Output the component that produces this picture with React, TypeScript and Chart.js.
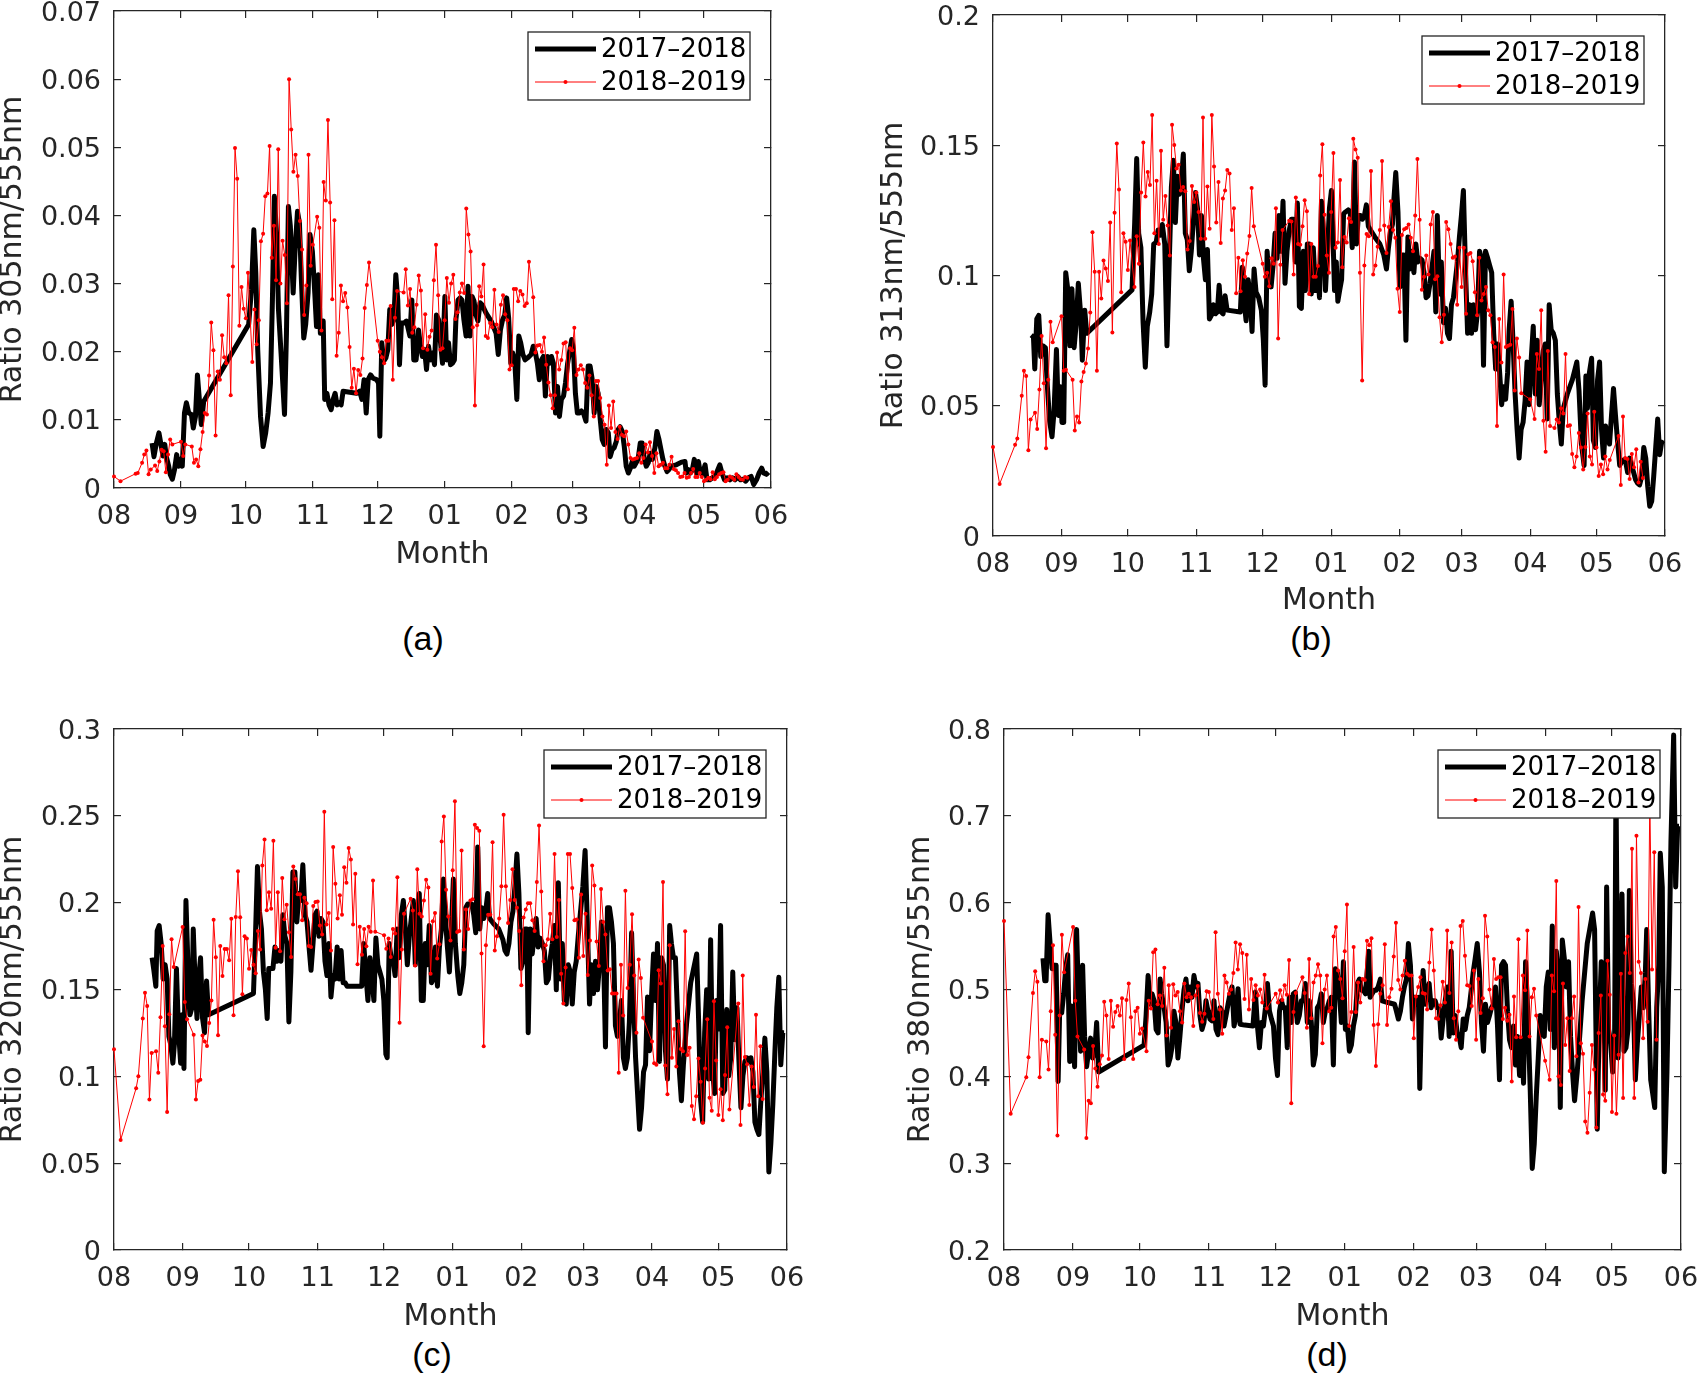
import { useEffect, useRef } from 'react'
import Chart from 'chart.js/auto'

// season axis: day 0 = 1 Aug, day 304 = 1 Jun
const monthDays = [0, 31, 61, 92, 122, 153, 184, 212, 243, 273, 304]
const monthLabels = ['08', '09', '10', '11', '12', '01', '02', '03', '04', '05', '06']
const seriesLabels = ['2017–2018', '2018–2019']

// [day of season, ratio]
const r305_1718: [number, number][] = [
  [17.6,0.0066],[18.5,0.0046],[19.6,0.0066],[20.8,0.0081],[22,0.0059],[22.7,0.0047],[23.5,0.0064],[24.2,0.0046],[25.3,0.0032],[26,0.002],[27,0.0013],[28,0.0027],[29,0.0049],[29.8,0.0032],[30.7,0.0042],[31.6,0.0032],[32.6,0.011],[33.5,0.0125],[34.6,0.011],[35.8,0.0108],[36.7,0.0088],[37.7,0.0105],[38.6,0.0166],[39.5,0.013],[40.4,0.0093],[41.5,0.0127],
  [62.3,0.024],[63.6,0.0291],[64.7,0.0379],[65.6,0.0316],[66.5,0.0203],[67.8,0.0105],[69,0.0061],[70.2,0.0081],[71.3,0.011],[72.4,0.0154],[73.3,0.0276],[74.2,0.0428],[75.2,0.0374],[76.1,0.0262],[77.2,0.0203],[78,0.0159],[78.9,0.0108],[79.8,0.0227],[80.7,0.0413],[81.6,0.0384],[82.9,0.0286],[83.8,0.035],[84.9,0.0406],[85.8,0.0389],[86.7,0.0306],[87.8,0.022],[88.7,0.024],[89.8,0.0286],[90.7,0.0372],[91.8,0.0347],[92.9,0.0286],[93.7,0.0237],[94.6,0.0313],[95.5,0.0227],[96.8,0.0245],[97.5,0.013],[98.5,0.0139],[99.5,0.0122],[100.5,0.0115],[101.4,0.013],[102.3,0.0139],[103.2,0.0122],[104.2,0.0125],[105.1,0.0122],[106,0.0142],
  [112.2,0.0139],[113.7,0.0142],[114.7,0.013],[115.7,0.0159],[116.7,0.011],[117.6,0.0159],[118.7,0.0166],[119.9,0.0161],[121.5,0.0159],[122.4,0.0154],[123,0.0076],[123.9,0.0213],[124.8,0.0186],[125.8,0.0191],[126.7,0.0203],[127.6,0.0262],[128.5,0.024],[129.5,0.0247],[130.4,0.0313],[131.3,0.0276],[132.1,0.0181],[133,0.0242],[134.1,0.0242],[135.3,0.0245],[136.9,0.0223],[137.8,0.0276],[138.7,0.0188],[139.8,0.0188],[140.9,0.0232],[141.8,0.0208],[142.7,0.0193],[143.7,0.0203],[144.6,0.0174],[145.5,0.0208],[146.5,0.0188],[147.4,0.0198],[148.3,0.0181],[149.2,0.0254],[150.2,0.0247],[151.1,0.0213],[152,0.0183],[153.1,0.0281],[153.9,0.0188],[154.8,0.0213],[155.7,0.0181],[156.6,0.0183],[157.5,0.0188],[158.2,0.0247],[159.2,0.0276],[160.1,0.0279],[161,0.0276],[161.9,0.0247],[162.9,0.0223],[163.8,0.0296],[164.7,0.0223],[165.7,0.0281],[166.6,0.0274],[167.5,0.0254],[168.4,0.0245],[169.4,0.0272],[170.3,0.0269],[172.1,0.0257],[174.5,0.0245],[176.8,0.0227],[177.8,0.0196],[178.8,0.0232],[179.8,0.0247],[180.8,0.0254],[181.7,0.0279],[182.6,0.025],[183.6,0.0183],[184.5,0.0198],[185.4,0.0188],[186.4,0.013],[187.3,0.0223],[188.2,0.0213],[189.2,0.0196],[190.2,0.0188],[191.4,0.0191],[193,0.0196],[194,0.0208],[195,0.0198],[195.9,0.0183],[196.8,0.0159],[197.8,0.0188],[198.7,0.0193],[199.6,0.0135],[200.6,0.0193],[201.5,0.0183],[202.4,0.0193],[203.3,0.0183],[204.3,0.011],[205.2,0.0149],[206.1,0.0105],[207,0.013],[208,0.0135],[208.9,0.0154],[209.9,0.0183],[210.7,0.0198],[211.8,0.0218],[212.6,0.0203],[213.5,0.0139],[214.4,0.011],[215.4,0.011],[216.3,0.0113],[217.2,0.011],[218.4,0.0098],[219.4,0.0179],[220.3,0.0179],[221.2,0.0161],[222.2,0.011],[223.1,0.0149],[224,0.0139],[225,0.01],[225.9,0.0071],[226.8,0.0064],[227.7,0.0086],[228.7,0.0081],[229.6,0.0046],[230.5,0.0056],[231.4,0.0059],[232.4,0.0068],[233.3,0.0086],[234.2,0.009],[235.2,0.0083],[236.1,0.0061],[237,0.0032],[238,0.0022],[238.9,0.0029],[239.8,0.0039],[240.7,0.0032],[241.6,0.0037],[242.5,0.0042],[243.5,0.0066],[244.4,0.0066],[245.4,0.0042],[246.3,0.0032],[247.2,0.0037],[248.1,0.0051],[249.1,0.0042],[250.3,0.0059],[251.2,0.0083],[252.2,0.0071],[253.1,0.0056],[254,0.0042],[254.9,0.0032],[255.9,0.0024],[256.8,0.0027],[257.7,0.0032],[260.2,0.0034],[262.6,0.0038],[264.2,0.0039],[264.8,0.0022],[265.8,0.0027],[266.7,0.0022],[267.6,0.0027],[268.5,0.0042],[269.5,0.0022],[270.4,0.0039],[271.3,0.0022],[272.2,0.002],[273.5,0.0034],[274.4,0.0012],[275.7,0.0012],[276.9,0.0015],[278.1,0.0017],[279.4,0.0027],[280.3,0.0034],[281.3,0.0022],[282.5,0.0012],[283.7,0.0015],[285,0.0012],[286.2,0.0015],[287.4,0.0012],[288.6,0.0017],[289.9,0.0012],[291.1,0.0013],[292.3,0.001],[293.6,0.0015],[294.8,0.0017],[296,0.0005],[297.3,0.0012],[298.5,0.0022],[299.7,0.0029],[300.6,0.0022],[301.9,0.002],[302.8,0.0023],
]

const r305_1819: [number, number][] = [
  [0,0.0017],[3,0.001],[10,0.0021],[11,0.0022],[13,0.0037],[14,0.0049],[15,0.0055],[16,0.002],[17,0.0027],[19,0.0033],[20,0.0025],[21,0.0039],[22,0.0056],[23,0.0054],[24,0.0023],[25,0.0049],[26,0.0071],[27,0.0064],[31,0.0068],[32,0.0047],[33,0.0064],[36,0.0061],[37,0.0037],[38,0.0042],[39,0.0032],[40,0.0057],[41,0.0082],[42,0.011],[43,0.0108],[44,0.0165],[45,0.0243],[46,0.0202],[47,0.0077],[48,0.0171],[49,0.0159],[50,0.0224],[51,0.0192],[52,0.0183],[53,0.0283],[54,0.0136],[55,0.0325],[56,0.0499],[57,0.0454],[58,0.0238],[59,0.0295],[60,0.0263],[61,0.0249],[62,0.0316],[64,0.0185],[65,0.0262],[66,0.0211],[67,0.0246],[68,0.0362],[69,0.0373],[70,0.0428],[71,0.0432],[72,0.0502],[73,0.0338],[74,0.0385],[75,0.0305],[76,0.0497],[77,0.03],[78,0.0363],[79,0.0342],[80,0.0271],[81,0.06],[82,0.0526],[83,0.0464],[84,0.0489],[85,0.0458],[86,0.0392],[87,0.035],[88,0.0254],[89,0.0297],[90,0.0489],[91,0.0326],[92,0.0357],[94,0.0398],[95,0.0382],[96,0.0231],[97,0.0449],[98,0.0422],[99,0.054],[100,0.0419],[101,0.0277],[102,0.0393],[103,0.0194],[104,0.0228],[105,0.0297],[106,0.0274],[107,0.0286],[108,0.0265],[109,0.0207],[110,0.0147],[111,0.0175],[112,0.0139],[113,0.0173],[114,0.0166],[115,0.019],[116,0.0264],[117,0.0298],[118,0.0331],
  [122,0.0216],[123,0.02],[124,0.0192],[125,0.0183],[126,0.0216],[127,0.0216],[128,0.0267],[129,0.0159],[130,0.025],[131,0.0289],[134,0.0287],[135,0.0321],[136,0.0268],[137,0.0292],[138,0.0228],[139,0.0236],[140,0.0269],[141,0.0312],[142,0.029],[143,0.0205],[144,0.0255],[145,0.0203],[146,0.0222],[147,0.0231],[148,0.0305],[149,0.0357],[150,0.0283],[151,0.0203],[152,0.0205],[153,0.0246],[154,0.0308],[155,0.0272],[156,0.03],[157,0.0313],[158,0.0248],[159,0.0258],[160,0.0287],[161,0.03],[162,0.0286],[163,0.041],[164,0.0372],[165,0.0347],[166,0.0236],[167,0.0121],[168,0.0239],[169,0.0296],[170,0.0281],[171,0.0328],[172,0.0223],[173,0.022],[174,0.0242],[175,0.0236],[176,0.0291],[177,0.024],[178,0.0229],[179,0.0269],[180,0.0283],[181,0.0255],[182,0.0246],[183,0.0174],[184,0.018],[185,0.0292],[186,0.0292],[187,0.0274],[188,0.0289],[189,0.0284],[190,0.0267],[191,0.0271],[192,0.0332],[194,0.028],[195,0.0199],[196,0.0209],[197,0.021],[198,0.02],[199,0.0221],[200,0.0181],[201,0.0155],[202,0.0136],[203,0.0117],[204,0.0136],[205,0.0199],[206,0.0174],[207,0.0188],[208,0.0212],[209,0.0214],[210,0.0145],[211,0.0205],[212,0.0202],[213,0.0235],[214,0.0166],[215,0.0174],[216,0.018],[217,0.0174],[218,0.0154],[219,0.0147],[220,0.0165],[221,0.0136],[222,0.0105],[223,0.0157],[224,0.0157],[225,0.0132],[226,0.0105],[227,0.0093],[228,0.0034],[229,0.0121],[230,0.0088],[231,0.0127],[232,0.0082],[233,0.0072],[234,0.009],[235,0.0078],[236,0.0076],[237,0.0083],[238,0.0064],[239,0.0044],[240,0.0042],[241,0.0043],[242,0.0044],[243,0.0051],[244,0.0037],[245,0.0044],[246,0.0064],[247,0.0052],[248,0.0067],[249,0.0047],[250,0.0022],[251,0.0051],[252,0.0032],[253,0.0034],[254,0.0037],[255,0.0029],[256,0.0029],[257,0.0034],[258,0.0046],[259,0.0028],[260,0.0026],[261,0.0022],[262,0.0016],[263,0.0017],[264,0.0022],[265,0.0015],[266,0.0016],[267,0.0022],[268,0.0028],[269,0.0016],[270,0.0016],[271,0.0022],[272,0.0016],[273,0.001],[274,0.0012],[275,0.0015],[276,0.0013],[277,0.0023],[278,0.0013],[279,0.0016],[280,0.002],[281,0.0022],[282,0.0023],[283,0.001],[284,0.0012],[285,0.0017],[286,0.0015],[287,0.0012],[288,0.002],[289,0.0016],[290,0.0013],[291,0.0012],[292,0.0016],[293,0.0015],
]

const r313_1718: [number, number][] = [
  [17.3,0.0771],[18.3,0.0764],[18.9,0.0641],[19.8,0.0833],[20.7,0.0847],[21.6,0.0689],[22.6,0.073],[23.7,0.0723],[24.6,0.0573],[25.6,0.0442],[26.7,0.0381],[27.6,0.0477],[28.7,0.0716],[29.6,0.0463],[30.5,0.0573],[31.2,0.0436],[32,0.0436],[32.9,0.1011],[33.9,0.0942],[34.8,0.073],[35.7,0.0949],[36.7,0.0723],[37.6,0.0812],[38.6,0.097],[39.7,0.0847],[40.4,0.0675],[41.5,0.0867],[42.4,0.0778],
  [62.9,0.0945],[64.1,0.1203],[65,0.1449],[65.9,0.1162],[66.9,0.1107],[67.9,0.0819],[68.9,0.0648],[69.8,0.0805],[70.9,0.086],[71.8,0.0929],[72.7,0.1121],[73.8,0.1127],[74.7,0.1175],[75.7,0.1155],[76.6,0.1196],[77.7,0.1121],[78.7,0.073],[79.6,0.1011],[80.7,0.134],[81.6,0.1442],[82.5,0.1203],[83.4,0.1381],[84.3,0.1312],[85.2,0.1367],[86.1,0.1466],[87,0.1162],[87.9,0.1137],[88.8,0.1018],[89.7,0.1093],[90.6,0.1203],[91.6,0.1319],[92.5,0.1258],[93.4,0.1079],[94.3,0.123],[95.2,0.1066],[96.1,0.0984],[97,0.11],[97.9,0.0833],[98.8,0.0847],[99.7,0.0888],[100.6,0.0853],[101.5,0.086],[102.3,0.0963],[103.2,0.086],[104.1,0.0853],[105,0.0922],[105.9,0.0867],
  [111.9,0.086],[112.8,0.1032],[113.6,0.0901],[114.5,0.0826],[115.4,0.0984],[116.3,0.0929],[117.2,0.0785],[118.1,0.1025],[119,0.0936],[120.2,0.0915],[121.4,0.0867],[122.3,0.0751],[123.1,0.0579],[124,0.1093],[124.9,0.0984],[125.8,0.0956],[126.7,0.1038],[127.6,0.1162],[128.5,0.1066],[129.4,0.123],[130.3,0.1093],[131.2,0.1285],[132.1,0.097],[133,0.1093],[133.9,0.1168],[135,0.1216],[135.9,0.1216],[136.8,0.1052],[137.7,0.1278],[138.6,0.0881],[139.5,0.0874],[140.4,0.1093],[141.3,0.0942],[142.2,0.1121],[143.1,0.1121],[144,0.0929],[144.9,0.1107],[145.9,0.0942],[146.8,0.1025],[147.7,0.0915],[148.6,0.1285],[149.5,0.1162],[150.4,0.0942],[151.3,0.1093],[152.2,0.1258],[153.1,0.1326],[153.8,0.1148],[154.5,0.0942],[155.3,0.1052],[156,0.0901],[156.8,0.0942],[157.7,0.0984],[158.6,0.1237],[159.5,0.1244],[160.7,0.1252],[161.6,0.1244],[162.5,0.1107],[163.5,0.1436],[164.4,0.1121],[165.3,0.123],[166.2,0.123],[167.1,0.1216],[168,0.123],[168.9,0.1271],[169.8,0.1189],[170.7,0.1175],[172.7,0.1148],[175,0.1121],[176.8,0.1079],[178,0.1025],[178.9,0.1107],[179.8,0.1168],[180.7,0.1196],[181.3,0.1285],[182.2,0.1395],[183.2,0.1244],[184.1,0.0956],[185,0.1079],[185.9,0.1079],[186.8,0.0751],[187.7,0.1148],[188.6,0.1025],[189.5,0.1093],[190.4,0.1011],[191.3,0.1121],[192.2,0.1052],[193.2,0.1066],[194.1,0.1059],[195,0.1011],[195.9,0.0915],[196.8,0.0922],[197.7,0.097],[198.6,0.1032],[199.5,0.1093],[200.3,0.086],[201,0.123],[202,0.0929],[202.8,0.1052],[203.8,0.0819],[204.7,0.0874],[205.6,0.0778],[206.5,0.0758],[207.4,0.0888],[208.3,0.0915],[209.2,0.0984],[210.1,0.1052],[211,0.1148],[211.9,0.123],[212.8,0.1326],[213.8,0.1011],[214.7,0.0778],[215.6,0.0888],[216.5,0.0778],[217.4,0.0888],[218.3,0.0792],[219.2,0.086],[220.1,0.1093],[221,0.1066],[221.9,0.0655],[222.8,0.1093],[223.8,0.1066],[224.7,0.1038],[225.6,0.1011],[226.5,0.0778],[227.4,0.0641],[228.3,0.0737],[229.2,0.0627],[230.1,0.0504],[231,0.0573],[231.9,0.0525],[232.8,0.0627],[233.5,0.0792],[234.4,0.0901],[235.3,0.0737],[236.2,0.0545],[237.1,0.0408],[238,0.0299],[238.9,0.0408],[239.8,0.0436],[240.7,0.0518],[241.6,0.0668],[242.5,0.0504],[243.5,0.0682],[244.4,0.0805],[245.3,0.0545],[246.2,0.0751],[247.1,0.0504],[248,0.06],[248.9,0.071],[249.8,0.0737],[250.7,0.0449],[251.6,0.0888],[252.5,0.0792],[253.5,0.0778],[254.4,0.0751],[255.3,0.0545],[256.2,0.0436],[257.1,0.0353],[258,0.049],[259.8,0.0545],[262.1,0.06],[264.1,0.0668],[265.1,0.0559],[266.2,0.0353],[267.4,0.0271],[268.2,0.0614],[268.9,0.049],[269.8,0.0627],[270.8,0.0682],[271.6,0.0367],[272.5,0.034],[273.5,0.06],[274.4,0.0668],[275.3,0.0408],[276.2,0.0299],[277.1,0.0422],[278,0.0381],[278.9,0.0353],[279.8,0.0463],[280.7,0.0566],[281.6,0.0463],[282.5,0.0367],[283.5,0.0271],[284.4,0.0285],[285.3,0.0292],[286.2,0.0285],[287.1,0.0244],[288,0.0299],[288.9,0.0271],[289.8,0.0244],[290.7,0.0216],[291.6,0.0203],[292.5,0.0196],[293.5,0.023],[294.4,0.034],[295.3,0.0299],[296.2,0.0189],[297.1,0.0114],[298,0.0134],[298.9,0.023],[299.8,0.034],[300.7,0.0449],[301.6,0.0312],[302.5,0.036],[303.2,0.0353],
]

const r313_1819: [number, number][] = [
  [0,0.0342],[3,0.02],[10,0.035],[11,0.0374],[13,0.0538],[14,0.0634],[15,0.0614],[16,0.0329],[17,0.0447],[19,0.0473],[20,0.0411],[21,0.0562],[22,0.0768],[23,0.0586],[24,0.0337],[25,0.06],[26,0.0822],[27,0.0744],[31,0.0844],[32,0.0634],[33,0.0638],[36,0.06],[37,0.0405],[38,0.0459],[39,0.0436],[40,0.0593],[41,0.063],[42,0.0662],[43,0.072],[44,0.0858],[45,0.1166],[46,0.1014],[47,0.0634],[48,0.1014],[49,0.0912],[50,0.1058],[51,0.1027],[52,0.0979],[53,0.1203],[54,0.0781],[55,0.1241],[56,0.1507],[57,0.133],[58,0.0936],[59,0.1162],[60,0.113],[61,0.1021],[62,0.1134],[64,0.0956],[65,0.1151],[66,0.1045],[67,0.1319],[68,0.1511],[69,0.1303],[70,0.1397],[71,0.1347],[72,0.1616],[73,0.1162],[74,0.1364],[75,0.1121],[76,0.1479],[77,0.1214],[78,0.1305],[79,0.1192],[80,0.1077],[81,0.1579],[82,0.1501],[83,0.1411],[84,0.1425],[85,0.1326],[86,0.134],[87,0.1323],[88,0.11],[89,0.1132],[90,0.1344],[91,0.1282],[92,0.1319],[93,0.1244],[94,0.1141],[95,0.1607],[96,0.1141],[97,0.1342],[98,0.1179],[99,0.1616],[100,0.1418],[101,0.1203],[102,0.1359],[103,0.1125],[104,0.1296],[105,0.1326],[106,0.1405],[107,0.1392],[108,0.1175],[109,0.1258],[110,0.0932],[111,0.1068],[112,0.094],[113,0.1059],[114,0.0995],[115,0.1084],[116,0.1152],[117,0.1336],[118,0.1189],
  [122,0.1045],[123,0.0995],[124,0.1011],[125,0.0959],[126,0.1066],[127,0.1045],[128,0.1258],[129,0.0758],[130,0.1041],[131,0.1175],[134,0.121],[135,0.1207],[136,0.1004],[137,0.1299],[138,0.1121],[139,0.1118],[140,0.1189],[141,0.1289],[142,0.1247],[143,0.0929],[144,0.1121],[145,0.0995],[146,0.0995],[147,0.1036],[148,0.1384],[149,0.1504],[150,0.1233],[151,0.1077],[152,0.1011],[153,0.1244],[154,0.147],[155,0.1107],[156,0.1127],[157,0.1367],[158,0.1032],[159,0.1148],[160,0.1127],[161,0.122],[162,0.1205],[163,0.1525],[164,0.1484],[165,0.1452],[166,0.1011],[167,0.0597],[168,0.1038],[169,0.1159],[170,0.1151],[171,0.1401],[172,0.1004],[173,0.1038],[174,0.111],[175,0.1175],[176,0.144],[177,0.1192],[178,0.1086],[179,0.1186],[180,0.1285],[181,0.1175],[182,0.1145],[183,0.0949],[184,0.086],[185,0.1155],[186,0.1178],[187,0.1182],[188,0.1196],[189,0.1145],[190,0.1093],[191,0.123],[192,0.1447],[193,0.1214],[194,0.0945],[195,0.0995],[196,0.1077],[197,0.1004],[198,0.1196],[199,0.1244],[200,0.0986],[201,0.0997],[202,0.084],[203,0.0744],[204,0.0849],[205,0.1205],[206,0.1178],[207,0.1121],[208,0.1068],[209,0.1073],[210,0.0888],[211,0.1107],[212,0.0956],[213,0.1107],[214,0.0853],[215,0.1082],[216,0.1086],[217,0.1055],[218,0.0936],[219,0.0847],[220,0.1068],[221,0.0904],[222,0.0929],[223,0.0956],[224,0.0867],[225,0.0847],[226,0.0744],[227,0.0726],[228,0.0422],[229,0.0833],[230,0.0666],[231,0.1004],[232,0.0726],[233,0.073],[234,0.0734],[235,0.0871],[236,0.0559],[237,0.0758],[238,0.0685],[239,0.0548],[243,0.0525],[245,0.0449],[246,0.0699],[247,0.0641],[248,0.0867],[249,0.0442],[250,0.0323],[251,0.071],[252,0.0422],[254,0.0415],[255,0.0447],[256,0.0436],[257,0.049],[258,0.047],[259,0.0699],[260,0.0422],[261,0.0425],[262,0.0315],[263,0.0264],[264,0.0305],[265,0.0395],[266,0.034],[267,0.0255],[268,0.0342],[269,0.047],[270,0.0305],[271,0.0274],[272,0.0477],[273,0.034],[274,0.023],[275,0.0274],[276,0.0237],[277,0.0305],[278,0.0255],[279,0.0292],[283,0.0384],[284,0.0196],[285,0.0459],[286,0.0299],[287,0.0296],[288,0.0219],[289,0.0315],[290,0.0264],[291,0.0333],[292,0.0205],[293,0.0285],[294,0.0223],
]

const r320_1718: [number, number][] = [
  [17.2,0.1683],[18,0.1611],[18.9,0.1519],[19.5,0.1837],[20.4,0.1868],[21.3,0.1765],[22.2,0.156],[23.1,0.1642],[24,0.156],[24.8,0.123],[25.7,0.1179],[26.6,0.1076],[27.3,0.1189],[28.2,0.1621],[29.1,0.1272],[30.1,0.1076],[30.8,0.1354],[31.6,0.1045],[32.5,0.2012],[33.4,0.1642],[34.3,0.1354],[35.2,0.1395],[35.8,0.1848],[36.7,0.1519],[37.5,0.1333],[38.2,0.156],[39.1,0.1683],[40,0.1333],[40.9,0.1251],[41.8,0.1549],[42.7,0.1354],
  [63,0.1477],[63.9,0.1807],[64.8,0.2208],[65.7,0.1951],[66.6,0.1848],[67.5,0.1601],[68.4,0.1498],[69.2,0.1333],[69.9,0.1621],[70.8,0.1621],[71.8,0.1621],[72.7,0.1745],[73.6,0.1663],[74.5,0.1724],[75.4,0.1663],[76.3,0.193],[77.2,0.1807],[78.1,0.1765],[79,0.1313],[79.9,0.1601],[80.8,0.2177],[81.7,0.2177],[82.6,0.1889],[83.5,0.2053],[84.4,0.2012],[85.3,0.2218],[86.3,0.193],[87.2,0.1889],[88.1,0.1745],[89,0.1611],[89.9,0.1765],[90.8,0.193],[91.7,0.1951],[92.6,0.1807],[93.5,0.1909],[94.4,0.1889],[95.3,0.1663],[96.2,0.158],[97.1,0.1765],[98,0.1457],[98.9,0.158],[99.8,0.156],[100.8,0.1745],[101.7,0.156],[102.6,0.1724],[103.5,0.1539],[104.4,0.1539],[105.3,0.1519],
  [111.9,0.1519],[112.8,0.1765],[113.7,0.1601],[114.7,0.1436],[115.6,0.1683],[116.5,0.156],[117.4,0.1436],[118.3,0.1796],[119.2,0.1642],[120.1,0.1601],[121,0.156],[121.9,0.1436],[122.8,0.1128],[123.4,0.1107],[124.3,0.1765],[125.2,0.1683],[126.1,0.1663],[127,0.158],[127.9,0.1848],[128.8,0.1683],[129.8,0.193],[130.7,0.2012],[131.6,0.1848],[132.5,0.1642],[133.4,0.1807],[134.3,0.1909],[135.2,0.2012],[136.1,0.1642],[137,0.193],[137.9,0.2053],[138.8,0.1436],[139.7,0.1436],[140.6,0.1765],[141.5,0.1642],[142.4,0.1868],[143.4,0.1539],[144.3,0.156],[145.2,0.1745],[146.1,0.1519],[147,0.1745],[147.9,0.1848],[148.8,0.2136],[149.7,0.1909],[150.6,0.1745],[151.5,0.1601],[152.4,0.1848],[153.3,0.2136],[154.2,0.1765],[155.3,0.158],[156.2,0.1477],[157.1,0.1539],[158,0.1642],[158.9,0.1971],[159.8,0.1992],[160.7,0.1992],[161.6,0.1992],[162.5,0.193],[163.4,0.1827],[164.3,0.2321],[165.2,0.1848],[166.1,0.1971],[167,0.1909],[167.9,0.1951],[168.8,0.2053],[169.7,0.1909],[171.5,0.1879],[173.8,0.1848],[175.7,0.1786],[176.6,0.1724],[177.5,0.1704],[178.4,0.1765],[179.3,0.1889],[180.2,0.1951],[181.1,0.2095],[182,0.228],[182.9,0.2053],[183.8,0.1621],[184.7,0.1663],[185.6,0.1848],[186.5,0.1848],[187.1,0.1251],[188,0.1848],[188.9,0.1704],[189.8,0.1807],[190.7,0.1909],[191.6,0.1745],[192.5,0.1796],[193.5,0.1765],[194.4,0.1724],[195.3,0.1539],[196.2,0.156],[197.1,0.1683],[198,0.1765],[198.9,0.1868],[199.8,0.1498],[200.7,0.2115],[201.6,0.156],[202.5,0.1765],[203.4,0.1436],[204.3,0.1416],[205.2,0.1642],[206.1,0.1601],[207,0.1416],[207.9,0.1601],[208.8,0.1663],[209.7,0.1807],[210.6,0.193],[211.8,0.2095],[212.8,0.23],[213.7,0.193],[214.8,0.1416],[215.7,0.1642],[216.6,0.1477],[217.5,0.1663],[218.4,0.1498],[219.3,0.1642],[220.2,0.1889],[221.1,0.1724],[222,0.1169],[222.9,0.1971],[223.8,0.1971],[224.7,0.1889],[225.6,0.1765],[226.5,0.1292],[227.4,0.123],[228.3,0.1313],[229.2,0.1436],[230.1,0.1107],[231,0.1045],[231.9,0.1107],[232.8,0.1313],[233.8,0.1827],[234.7,0.1436],[235.6,0.1107],[236.5,0.0901],[237.4,0.0695],[238.3,0.0819],[239.2,0.1025],[240.1,0.1066],[241,0.1457],[241.9,0.1148],[242.8,0.1457],[243.7,0.1704],[244.6,0.1436],[245.5,0.1765],[246.4,0.1086],[247.3,0.1683],[248.2,0.1642],[249.1,0.1148],[250,0.0984],[251,0.1868],[251.8,0.1765],[252.7,0.1683],[253.6,0.1683],[254.5,0.1374],[255.4,0.1025],[256.3,0.086],[257.2,0.1066],[258.7,0.1313],[260.5,0.1539],[263.2,0.1704],[264.1,0.1313],[265,0.086],[265.9,0.0737],[266.8,0.1251],[267.7,0.1498],[268.6,0.0984],[269.5,0.1786],[270.4,0.1025],[271.3,0.0901],[272.2,0.1436],[273.1,0.1272],[274,0.1868],[275,0.0901],[275.9,0.0922],[276.8,0.1385],[277.7,0.1004],[278.6,0.1107],[279.5,0.1601],[280.4,0.121],[281.4,0.1395],[282.3,0.1086],[283.2,0.0819],[284.1,0.1004],[285,0.1086],[285.9,0.1107],[286.8,0.1086],[287.7,0.1107],[288.6,0.1025],[289.5,0.0737],[290.4,0.0695],[291.3,0.0665],[292.2,0.086],[293.1,0.1025],[294,0.122],[294.9,0.1025],[295.8,0.0449],[296.7,0.0613],[297.6,0.084],[298.5,0.1128],[299.4,0.1395],[300.3,0.157],[301.2,0.1066],[302.1,0.1251],[302.7,0.1251],
]

const r320_1819: [number, number][] = [
  [0,0.1156],[3,0.0634],[10,0.0932],[11,0.1],[13,0.1333],[14,0.1481],[15,0.1405],[16,0.0866],[17,0.1134],[19,0.1144],[20,0.1021],[21,0.134],[22,0.1751],[23,0.1288],[24,0.0794],[25,0.1358],[26,0.179],[27,0.163],[31,0.186],[32,0.1428],[33,0.1329],[36,0.1239],[37,0.0866],[38,0.0973],[39,0.0981],[40,0.1235],[41,0.12],[42,0.1175],[43,0.1307],[44,0.1436],[45,0.1901],[46,0.1685],[47,0.1237],[48,0.1751],[49,0.1578],[50,0.1733],[51,0.1733],[52,0.1669],[53,0.1907],[54,0.1352],[55,0.1918],[56,0.2181],[57,0.1916],[58,0.1473],[59,0.1807],[60,0.1794],[61,0.1619],[62,0.1728],[63,0.1642],[64,0.1593],[65,0.1837],[66,0.173],[67,0.2214],[68,0.2364],[69,0.1957],[70,0.206],[71,0.1965],[72,0.2356],[73,0.1741],[74,0.206],[75,0.172],[76,0.2142],[77,0.1905],[78,0.1988],[79,0.1829],[80,0.1687],[81,0.2208],[82,0.2136],[83,0.2049],[84,0.2049],[85,0.1899],[86,0.2029],[87,0.1996],[88,0.1751],[89,0.1745],[90,0.1981],[91,0.2004],[92,0.2006],[93,0.1868],[94,0.1817],[95,0.2523],[96,0.1874],[97,0.194],[98,0.1724],[99,0.2321],[100,0.2109],[101,0.1909],[102,0.2043],[103,0.193],[104,0.2204],[105,0.2115],[106,0.2315],[107,0.2249],[108,0.1874],[109,0.2167],[110,0.1646],[111,0.1862],[112,0.17],[113,0.1848],[114,0.1749],[115,0.1862],[116,0.1833],[117,0.2128],[118,0.1833],
  [122,0.1813],[123,0.1735],[124,0.1794],[125,0.1687],[126,0.1848],[127,0.1823],[128,0.2146],[129,0.1309],[130,0.173],[131,0.1936],[134,0.2023],[135,0.1955],[136,0.1638],[137,0.2193],[138,0.1936],[139,0.192],[140,0.2012],[141,0.2132],[142,0.2088],[143,0.159],[144,0.1893],[145,0.194],[146,0.1679],[147,0.1761],[148,0.2352],[149,0.2496],[150,0.2074],[151,0.192],[152,0.1782],[153,0.2187],[154,0.2584],[155,0.1831],[156,0.1837],[157,0.23],[158,0.173],[159,0.1961],[160,0.1848],[161,0.2012],[162,0.2019],[163,0.2449],[164,0.243],[165,0.2414],[166,0.1708],[167,0.1173],[168,0.1755],[169,0.193],[170,0.193],[171,0.2348],[172,0.1724],[173,0.1807],[174,0.1909],[175,0.2095],[176,0.2506],[177,0.2095],[178,0.1883],[179,0.2016],[180,0.2193],[181,0.2016],[182,0.1971],[183,0.1837],[184,0.1525],[185,0.1914],[186,0.1961],[187,0.1996],[188,0.1996],[189,0.1899],[190,0.1837],[191,0.2119],[192,0.2444],[193,0.2064],[194,0.1663],[195,0.1755],[196,0.179],[197,0.1936],[198,0.179],[199,0.228],[200,0.1802],[201,0.2016],[202,0.159],[203,0.142],[204,0.1626],[205,0.228],[206,0.228],[207,0.2084],[208,0.1899],[209,0.1903],[210,0.1683],[211,0.2047],[212,0.1693],[213,0.1936],[214,0.1584],[215,0.1782],[216,0.2214],[217,0.2099],[218,0.1776],[219,0.1636],[220,0.2078],[221,0.1889],[222,0.1817],[223,0.1609],[224,0.1617],[225,0.1477],[226,0.1477],[227,0.1477],[228,0.1021],[229,0.1642],[230,0.135],[231,0.2068],[232,0.1508],[233,0.1642],[234,0.1934],[235,0.158],[236,0.1251],[237,0.1673],[238,0.1566],[239,0.1337],[243,0.12],[244,0.1076],[245,0.1066],[246,0.1611],[247,0.1535],[248,0.2119],[249,0.1062],[250,0.0897],[251,0.1755],[252,0.1107],[253,0.1272],[254,0.1056],[255,0.1317],[256,0.1158],[257,0.1144],[258,0.1835],[259,0.1123],[260,0.1165],[261,0.0829],[262,0.0753],[263,0.0885],[264,0.1103],[265,0.0969],[266,0.0733],[267,0.1045],[268,0.1329],[269,0.0877],[270,0.0802],[271,0.1432],[272,0.1091],[273,0.0778],[274,0.0926],[275,0.0747],[276,0.1008],[277,0.1282],[278,0.0809],[282,0.142],[283,0.072],[284,0.158],[285,0.1111],[286,0.107],[287,0.0835],[288,0.1056],[289,0.0938],[290,0.1354],[291,0.0885],[292,0.1173],[293,0.087],
]

const r380_1718: [number, number][] = [
  [17.5,0.536],[18.3,0.51],[18.9,0.51],[19.8,0.586],[20.7,0.553],[21.6,0.524],[22.5,0.528],[23.4,0.528],[24.3,0.394],[25,0.475],[25.9,0.473],[26.8,0.495],[27.7,0.524],[28.6,0.54],[29.5,0.417],[30.4,0.481],[31.1,0.454],[31.7,0.411],[32.6,0.569],[33.5,0.487],[34.4,0.429],[35.3,0.528],[36.2,0.446],[37.1,0.411],[38,0.429],[38.9,0.444],[39.8,0.421],[40.7,0.427],[41.6,0.462],[42.5,0.405],
  [62.9,0.436],[63.8,0.47],[64.7,0.516],[65.6,0.483],[66.5,0.495],[67.4,0.487],[68.3,0.454],[69.2,0.45],[70.1,0.512],[70.8,0.495],[71.9,0.479],[72.8,0.462],[73.7,0.413],[74.6,0.421],[75.4,0.433],[76.3,0.475],[77.2,0.462],[78.1,0.421],[79,0.446],[79.9,0.475],[80.8,0.499],[81.7,0.512],[82.6,0.487],[83.5,0.503],[84.4,0.491],[85.3,0.516],[86.2,0.503],[87.1,0.507],[88,0.47],[88.9,0.454],[89.8,0.462],[90.7,0.487],[91.6,0.475],[92.5,0.466],[93.4,0.464],[94.3,0.487],[95.2,0.454],[96.1,0.448],[97,0.479],[97.9,0.475],[98.8,0.458],[99.7,0.47],[100.6,0.483],[101.5,0.495],[102.4,0.503],[103.3,0.458],[104.2,0.47],[105.1,0.501],[106,0.46],[108.1,0.459],[111.8,0.458],[112.9,0.497],[113.8,0.458],[114.7,0.433],[115.6,0.462],[116.5,0.458],[117.4,0.479],[118.3,0.507],[119.2,0.475],[120.1,0.466],[121,0.458],[121.9,0.421],[122.8,0.401],[123.7,0.475],[124.6,0.487],[125.4,0.479],[126.3,0.479],[127.2,0.433],[128.1,0.491],[129,0.462],[129.9,0.495],[130.8,0.497],[131.7,0.462],[132.6,0.47],[133.5,0.487],[134.4,0.487],[135.3,0.507],[136.2,0.462],[137.1,0.487],[138,0.462],[138.9,0.413],[139.8,0.425],[140.7,0.479],[141.6,0.483],[142.5,0.495],[143.4,0.462],[144.3,0.475],[145.2,0.479],[146.1,0.487],[147,0.491],[147.9,0.413],[148.8,0.524],[149.7,0.52],[150.6,0.495],[151.5,0.462],[152.4,0.532],[153.3,0.454],[154.2,0.458],[155.1,0.429],[156,0.436],[156.9,0.458],[157.8,0.47],[158.7,0.507],[159.6,0.512],[160.5,0.499],[161.4,0.499],[162.3,0.495],[163.2,0.524],[163.8,0.544],[164.4,0.491],[165.3,0.495],[166.2,0.499],[167.1,0.499],[168,0.503],[169,0.512],[169.8,0.487],[172.4,0.485],[175.4,0.483],[176.2,0.475],[177.1,0.466],[178,0.475],[178.9,0.491],[179.8,0.503],[180.7,0.512],[181.6,0.553],[182.5,0.528],[183.4,0.466],[184.3,0.491],[185.2,0.487],[186.1,0.491],[186.7,0.386],[187.6,0.491],[188.2,0.522],[189.1,0.483],[190,0.495],[190.9,0.507],[191.8,0.479],[192.7,0.487],[193.6,0.487],[194.5,0.479],[195.4,0.479],[196.3,0.444],[197.2,0.466],[198.1,0.487],[199,0.503],[199.9,0.446],[200.8,0.544],[201.7,0.45],[202.6,0.47],[203.5,0.45],[204.4,0.446],[205.3,0.433],[206.2,0.466],[207.1,0.454],[208,0.47],[208.9,0.479],[209.8,0.499],[210.7,0.52],[211.6,0.536],[212.5,0.553],[213.5,0.52],[214.4,0.462],[215.3,0.429],[216.2,0.483],[217.1,0.462],[218,0.47],[218.9,0.479],[219.8,0.483],[220.7,0.503],[221.6,0.458],[222.5,0.396],[223.4,0.528],[224.3,0.532],[225.2,0.528],[226.1,0.475],[227,0.442],[227.9,0.433],[228.8,0.458],[229.7,0.413],[230.6,0.446],[231.5,0.401],[232.4,0.442],[233.3,0.392],[234.2,0.532],[235.1,0.479],[236.3,0.384],[237.2,0.294],[238.1,0.322],[239,0.376],[239.9,0.421],[240.8,0.47],[241.7,0.454],[242.6,0.446],[243.5,0.503],[244.4,0.52],[245.3,0.454],[246.2,0.573],[247.1,0.433],[248,0.544],[248.9,0.52],[249.8,0.364],[250.7,0.557],[251.6,0.536],[252.5,0.503],[253.5,0.532],[254.4,0.446],[255.3,0.405],[256.2,0.372],[257.4,0.405],[259.6,0.487],[261.9,0.553],[264.3,0.588],[265.2,0.569],[266.4,0.339],[267.3,0.466],[268.2,0.532],[269.1,0.528],[270,0.384],[270.6,0.618],[271.5,0.454],[272.4,0.438],[273.3,0.405],[274.2,0.446],[274.8,0.74],[275.7,0.421],[276.6,0.483],[277.5,0.61],[278.4,0.429],[279.3,0.433],[280.2,0.454],[280.8,0.614],[281.7,0.507],[282.6,0.487],[283.5,0.396],[284.4,0.438],[285.3,0.47],[286.2,0.503],[287.1,0.479],[288,0.52],[288.6,0.569],[289.5,0.475],[290.4,0.396],[291.3,0.38],[292.2,0.364],[293.1,0.479],[294,0.528],[294.7,0.657],[295.6,0.618],[296.5,0.29],[297.7,0.405],[298.6,0.528],[299.5,0.672],[300.7,0.793],[301.6,0.618],[302.5,0.688],[303.1,0.688],
]

const r380_1819: [number, number][] = [
  [0,0.579],[3,0.357],[10,0.399],[11,0.422],[13,0.496],[14,0.521],[15,0.509],[16,0.399],[17,0.442],[19,0.44],[20,0.408],[21,0.475],[22,0.551],[23,0.448],[24,0.332],[25,0.47],[26,0.563],[27,0.52],[31,0.572],[32,0.487],[33,0.446],[36,0.431],[37,0.329],[38,0.372],[39,0.369],[40,0.435],[41,0.409],[42,0.388],[43,0.414],[44,0.424],[45,0.486],[46,0.47],[47,0.42],[48,0.487],[49,0.457],[50,0.474],[51,0.481],[52,0.47],[53,0.49],[54,0.42],[55,0.488],[56,0.507],[57,0.468],[58,0.42],[59,0.475],[60,0.479],[61,0.449],[62,0.455],[64,0.429],[65,0.487],[66,0.478],[67,0.543],[68,0.546],[69,0.483],[70,0.493],[71,0.481],[72,0.525],[73,0.447],[74,0.505],[75,0.456],[76,0.506],[77,0.493],[78,0.497],[79,0.475],[80,0.462],[81,0.507],[82,0.491],[83,0.495],[84,0.491],[85,0.458],[86,0.493],[87,0.504],[88,0.473],[89,0.463],[90,0.472],[91,0.498],[92,0.497],[94,0.466],[95,0.566],[96,0.495],[97,0.477],[98,0.449],[99,0.516],[100,0.508],[101,0.495],[102,0.5],[103,0.519],[104,0.554],[105,0.523],[106,0.552],[107,0.542],[108,0.489],[109,0.54],[110,0.477],[111,0.512],[112,0.488],[113,0.505],[114,0.493],[115,0.5],[116,0.485],[117,0.517],[118,0.478],
  [122,0.495],[123,0.485],[124,0.499],[125,0.488],[126,0.505],[127,0.494],[128,0.534],[129,0.369],[130,0.474],[131,0.496],[134,0.514],[135,0.496],[136,0.456],[137,0.535],[138,0.467],[139,0.508],[140,0.516],[141,0.529],[142,0.516],[143,0.438],[144,0.5],[145,0.516],[146,0.475],[147,0.479],[148,0.561],[149,0.572],[150,0.522],[151,0.512],[152,0.49],[153,0.544],[154,0.598],[155,0.458],[156,0.474],[157,0.549],[158,0.474],[159,0.508],[160,0.485],[161,0.512],[162,0.511],[163,0.556],[164,0.551],[165,0.559],[166,0.459],[167,0.412],[168,0.46],[169,0.495],[170,0.505],[171,0.552],[172,0.459],[173,0.491],[174,0.501],[175,0.538],[176,0.577],[177,0.511],[178,0.5],[179,0.516],[180,0.533],[181,0.518],[182,0.516],[183,0.516],[184,0.444],[185,0.492],[186,0.503],[187,0.514],[188,0.496],[189,0.495],[190,0.477],[191,0.531],[192,0.569],[193,0.522],[194,0.467],[195,0.466],[196,0.482],[197,0.509],[198,0.485],[199,0.568],[200,0.496],[201,0.554],[202,0.467],[203,0.442],[204,0.475],[205,0.573],[206,0.579],[207,0.539],[208,0.505],[209,0.504],[210,0.481],[211,0.522],[212,0.442],[213,0.512],[214,0.473],[215,0.49],[216,0.585],[217,0.561],[218,0.5],[219,0.478],[220,0.535],[221,0.512],[222,0.514],[223,0.514],[224,0.466],[225,0.479],[226,0.464],[227,0.471],[228,0.394],[229,0.492],[230,0.445],[231,0.558],[232,0.445],[233,0.516],[234,0.499],[235,0.568],[236,0.446],[237,0.491],[238,0.501],[239,0.47],[243,0.418],[245,0.396],[246,0.516],[247,0.498],[248,0.625],[249,0.4],[250,0.39],[251,0.507],[252,0.436],[253,0.467],[254,0.406],[255,0.467],[256,0.492],[257,0.423],[258,0.595],[259,0.438],[260,0.426],[261,0.348],[262,0.335],[263,0.381],[264,0.436],[265,0.408],[266,0.341],[267,0.45],[268,0.493],[269,0.379],[270,0.372],[271,0.533],[272,0.494],[273,0.359],[274,0.447],[275,0.357],[276,0.425],[277,0.518],[278,0.375],[279,0.542],[280,0.561],[281,0.519],[282,0.662],[283,0.375],[284,0.677],[285,0.532],[286,0.519],[287,0.444],[288,0.512],[289,0.463],[290,0.72],[291,0.523],[292,0.658],[293,0.442],
]

const FONT = 'DejaVu Sans'
const INK = '#262626'
const TICK_LEN = 7

type Box = { l: number; t: number; r: number; b: number }

// legend drawn inside the axes, top-right, over the data (MATLAB style)
const boxLegend = {
  id: 'boxLegend',
  afterDatasetsDraw(chart: any) {
    const { ctx, chartArea } = chart
    const w = 222
    const h = 68
    const x = chartArea.right - 21 - w
    const y = chartArea.top + 21
    ctx.save()
    ctx.fillStyle = '#ffffff'
    ctx.fillRect(x, y, w, h)
    ctx.strokeStyle = INK
    ctx.lineWidth = 1.3
    ctx.strokeRect(x, y, w, h)
    chart.data.datasets.forEach((ds: any, i: number) => {
      const cy = y + 17 + i * 33
      ctx.strokeStyle = ds.borderColor
      ctx.lineWidth = ds.borderWidth
      ctx.beginPath()
      ctx.moveTo(x + 7, cy)
      ctx.lineTo(x + 68, cy)
      ctx.stroke()
      if (ds.pointRadius > 0) {
        ctx.fillStyle = ds.pointBackgroundColor
        ctx.beginPath()
        ctx.arc(x + 37.5, cy, ds.pointRadius, 0, Math.PI * 2)
        ctx.fill()
      }
      ctx.fillStyle = '#000000'
      ctx.font = `26px "${FONT}"`
      ctx.textBaseline = 'middle'
      ctx.textAlign = 'left'
      ctx.fillText(ds.label, x + 73, cy + 1)
    })
    ctx.restore()
  },
}

// force a scale box to a fixed size and stop it from asking for extra layout padding
function pin(s: any, size: { width?: number; height?: number }) {
  if (size.width !== undefined) s.width = size.width
  if (size.height !== undefined) s.height = size.height
  s.paddingTop = 0
  s.paddingBottom = 0
  s.paddingLeft = 0
  s.paddingRight = 0
}

type PanelProps = {
  plot: Box
  frame: Box
  yTitle: string
  yTitleX: number
  yMin: number
  yMax: number
  yStep: number
  older: [number, number][]
  newer: [number, number][]
  tag: string
  tagX: number
  tagY: number
}

function RatioPanel(p: PanelProps) {
  const canvasRef = useRef<HTMLCanvasElement>(null)

  useEffect(() => {
    if (!canvasRef.current) return
    const { plot, frame } = p
    const tickFont = { family: FONT, size: 27 }
    const titleFont = { family: FONT, size: 30 }
    const grid = {
      drawOnChartArea: false,
      drawTicks: true,
      tickLength: -TICK_LEN,
      color: INK,
      lineWidth: 1.2,
    }
    const border = { color: INK, width: 1.3 }
    const monthTicks = (axis: any) => {
      axis.ticks = monthDays.map((v) => ({ value: v }))
    }
    const fmt = (v: any) => String(+Number(v).toFixed(3))

    const chart = new Chart(canvasRef.current, {
      type: 'line',
      data: {
        datasets: [
          {
            label: seriesLabels[0],
            data: p.older.map(([x, y]) => ({ x, y })),
            borderColor: '#000000',
            backgroundColor: '#000000',
            borderWidth: 5,
            borderJoinStyle: 'round',
            pointRadius: 0,
            order: 2,
          },
          {
            label: seriesLabels[1],
            data: p.newer.map(([x, y]) => ({ x, y })),
            borderColor: '#ff0000',
            backgroundColor: '#ff0000',
            pointBackgroundColor: '#ff0000',
            borderWidth: 1,
            pointRadius: 2,
            pointBorderWidth: 0,
            order: 1,
            clip: false,
          },
        ],
      } as any,
      options: {
        animation: false,
        responsive: true,
        maintainAspectRatio: false,
        layout: {
          autoPadding: false,
          padding: { left: 0, bottom: 0, top: plot.t - frame.t, right: frame.r - plot.r },
        },
        plugins: { legend: { display: false }, tooltip: { enabled: false } },
        scales: {
          x: {
            type: 'linear',
            position: 'bottom',
            min: 0,
            max: 304,
            afterBuildTicks: monthTicks,
            grid,
            border,
            ticks: {
              autoSkip: false,
              maxRotation: 0,
              font: tickFont,
              color: INK,
              padding: 29 - 16.2 + TICK_LEN,
              callback: (v: any) => monthLabels[monthDays.indexOf(Number(v))] ?? '',
            },
            title: {
              display: true,
              text: 'Month',
              font: titleFont,
              color: INK,
              padding: { top: 0, bottom: 0 },
            },
            afterFit: (s: any) => pin(s, { height: frame.b - plot.b }),
          },
          x2: {
            type: 'linear',
            position: 'top',
            min: 0,
            max: 304,
            afterBuildTicks: monthTicks,
            grid,
            border,
            ticks: { display: false },
            afterFit: (s: any) => pin(s, { height: 0 }),
          },
          y: {
            type: 'linear',
            position: 'left',
            min: p.yMin,
            max: p.yMax,
            grid,
            border,
            ticks: {
              stepSize: p.yStep,
              font: tickFont,
              color: INK,
              padding: 13 + TICK_LEN,
              labelOffset: 2.5,
              callback: fmt,
            },
            title: {
              display: true,
              text: p.yTitle,
              font: titleFont,
              color: INK,
              padding: { top: p.yTitleX - frame.l - 18, bottom: 0 },
            },
            afterFit: (s: any) => pin(s, { width: plot.l - frame.l }),
          },
          y2: {
            type: 'linear',
            position: 'right',
            min: p.yMin,
            max: p.yMax,
            grid,
            border,
            ticks: { display: false, stepSize: p.yStep },
            afterFit: (s: any) => pin(s, { width: 0 }),
          },
        },
      } as any,
      plugins: [boxLegend],
    })

    return () => {
      chart.destroy()
    }
  }, [])

  const { frame } = p
  return (
    <>
      <div
        style={{
          position: 'absolute',
          left: frame.l,
          top: frame.t,
          width: frame.r - frame.l,
          height: frame.b - frame.t,
        }}
      >
        <canvas ref={canvasRef}></canvas>
      </div>
      <div
        style={{
          position: 'absolute',
          left: p.tagX,
          top: p.tagY,
          transform: 'translate(-50%, -50%)',
          fontFamily: '"Liberation Sans", Arial, sans-serif',
          fontSize: 34,
          lineHeight: 1,
          color: '#000',
          whiteSpace: 'nowrap',
        }}
      >
        {p.tag}
      </div>
    </>
  )
}

export default function App() {
  return (
    <div
      style={{
        position: 'absolute',
        left: 0,
        top: 0,
        width: 1699,
        height: 1373,
        background: '#ffffff',
        overflow: 'hidden',
      }}
    >
      <RatioPanel
        plot={{ l: 114, t: 11, r: 771, b: 488 }}
        frame={{ l: -6, t: 0, r: 860, b: 573 }}
        yTitle="Ratio 305nm/555nm"
        yTitleX={13}
        yMin={0}
        yMax={0.07}
        yStep={0.01}
        older={r305_1718}
        newer={r305_1819}
        tag="(a)"
        tagX={423}
        tagY={638}
      />
      <RatioPanel
        plot={{ l: 993, t: 15, r: 1665, b: 536 }}
        frame={{ l: 866, t: 0, r: 1699, b: 619 }}
        yTitle="Ratio 313nm/555nm"
        yTitleX={894}
        yMin={0}
        yMax={0.2}
        yStep={0.05}
        older={r313_1718}
        newer={r313_1819}
        tag="(b)"
        tagX={1311}
        tagY={638}
      />
      <RatioPanel
        plot={{ l: 114, t: 729, r: 787, b: 1250 }}
        frame={{ l: -6, t: 700, r: 860, b: 1335 }}
        yTitle="Ratio 320nm/555nm"
        yTitleX={13}
        yMin={0}
        yMax={0.3}
        yStep={0.05}
        older={r320_1718}
        newer={r320_1819}
        tag="(c)"
        tagX={432}
        tagY={1354}
      />
      <RatioPanel
        plot={{ l: 1004, t: 729, r: 1681, b: 1250 }}
        frame={{ l: 880, t: 700, r: 1699, b: 1335 }}
        yTitle="Ratio 380nm/555nm"
        yTitleX={921}
        yMin={0.2}
        yMax={0.8}
        yStep={0.1}
        older={r380_1718}
        newer={r380_1819}
        tag="(d)"
        tagX={1327}
        tagY={1354}
      />
    </div>
  )
}
